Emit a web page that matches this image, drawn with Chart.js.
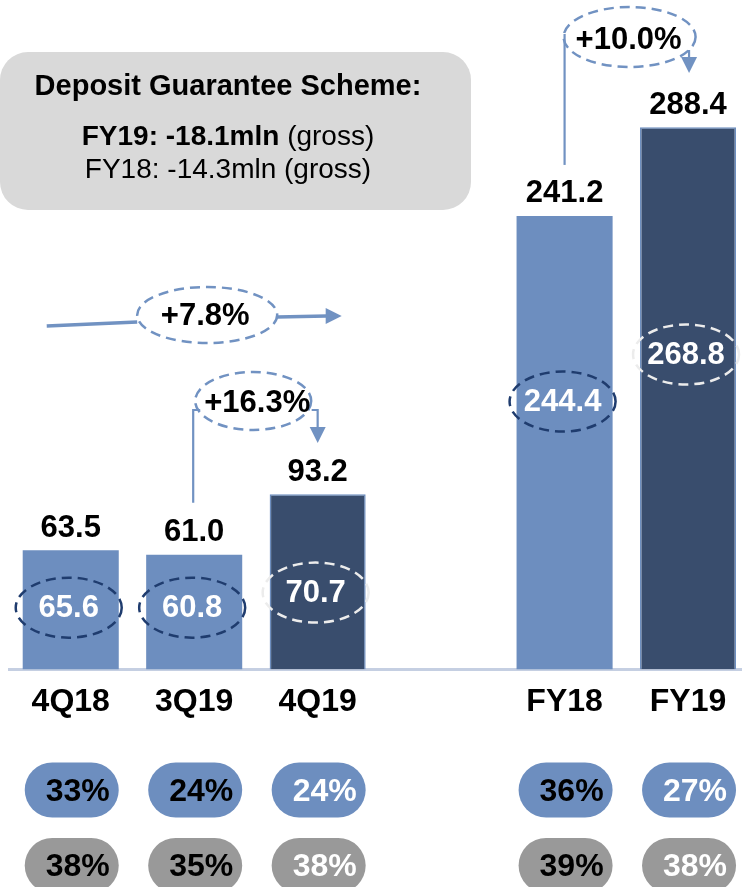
<!DOCTYPE html>
<html>
<head>
<meta charset="utf-8">
<script src="https://cdn.jsdelivr.net/npm/chart.js@4.4.0/dist/chart.umd.min.js"></script>
<style>
  body { margin: 0; background: #fff; overflow: hidden; }
  #chart { display: block; }
</style>
</head>
<body>
<canvas id="chart" width="742" height="887"></canvas>
<script>
// periods - the empty slot is the gap between quarters and full years
const categories = ['4Q18', '3Q19', '4Q19', '', 'FY18', 'FY19'];
const reported = [63.5, 61.0, 93.2, null, 241.2, 288.4];
const adjusted = [65.6, 60.8, 70.7, null, 244.4, 268.8];
const currentPeriod = [false, false, true, false, false, true];
const shareRow1 = [33, 24, 24, null, 36, 27];
const shareRow2 = [38, 35, 38, null, 39, 38];

// growth of the adjusted figures: [from, to]
const growthPairs = [[0, 2], [1, 2], [4, 5]];
const growthText = growthPairs.map(function (p) {
    return '+' + ((adjusted[p[1]] / adjusted[p[0]] - 1) * 100).toFixed(1) + '%';
});

// height (axis units) of the adjusted label inside each bar
const adjustedLabelAt = [32.4, 32.4, 40.4, null, 142, 167];

const LIGHT = '#6d8ebf';
const DARK = '#394d6d';
const LINE = '#7192c2';
const FONT = "'Liberation Sans', Arial, sans-serif";

function text(ctx, str, x, y, font, color) {
    ctx.font = font;
    ctx.fillStyle = color;
    ctx.textAlign = 'center';
    ctx.textBaseline = 'middle';
    ctx.fillText(str, x, y);
}

function dashedEllipse(ctx, x, y, rx, ry, color, fill) {
    ctx.save();
    ctx.beginPath();
    ctx.ellipse(x, y, rx, ry, 0, 0, Math.PI * 2);
    if (fill) {
        ctx.fillStyle = fill;
        ctx.fill();
    }
    ctx.setLineDash([10, 6]);
    ctx.lineWidth = 2.5;
    ctx.strokeStyle = color;
    ctx.stroke();
    ctx.restore();
}

function polyline(ctx, pts, width) {
    ctx.beginPath();
    ctx.moveTo(pts[0][0], pts[0][1]);
    for (let i = 1; i < pts.length; i++) ctx.lineTo(pts[i][0], pts[i][1]);
    ctx.lineWidth = width;
    ctx.strokeStyle = LINE;
    ctx.stroke();
}

// tip at x,y ; dir 'right' or 'down'
function arrowHead(ctx, x, y, dir) {
    ctx.beginPath();
    if (dir === 'right') {
        ctx.moveTo(x, y); ctx.lineTo(x - 16, y - 8); ctx.lineTo(x - 16, y + 8);
    } else {
        ctx.moveTo(x, y); ctx.lineTo(x - 8, y - 16); ctx.lineTo(x + 8, y - 16);
    }
    ctx.closePath();
    ctx.fillStyle = LINE;
    ctx.fill();
}

const overlay = {
    id: 'overlay',
    afterDraw(chart) {
        const ctx = chart.ctx;
        const xs = chart.scales.x, ys = chart.scales.y;
        const px = i => xs.getPixelForValue(i);
        const py = v => ys.getPixelForValue(v);

        // info box
        ctx.save();
        ctx.fillStyle = '#d9d9d9';
        ctx.beginPath();
        ctx.roundRect(0, 52, 471, 158, 28);
        ctx.fill();
        ctx.textBaseline = 'alphabetic';
        ctx.textAlign = 'center';
        ctx.fillStyle = '#000';
        ctx.font = 'bold 29px ' + FONT;
        ctx.fillText('Deposit Guarantee Scheme:', 228, 95);
        const b = 'FY19: -18.1mln', n = ' (gross)';
        ctx.font = 'bold 28px ' + FONT;
        const wb = ctx.measureText(b).width;
        ctx.font = '28px ' + FONT;
        const wn = ctx.measureText(n).width;
        const sx = 228 - (wb + wn) / 2;
        ctx.textAlign = 'left';
        ctx.font = 'bold 28px ' + FONT;
        ctx.fillText(b, sx, 145);
        ctx.font = '28px ' + FONT;
        ctx.fillText(n, sx + wb, 145);
        ctx.textAlign = 'center';
        ctx.fillText('FY18: -14.3mln (gross)', 228, 178);
        ctx.restore();

        // reported values on top of bars
        reported.forEach((v, i) => {
            if (v == null) return;
            text(ctx, v.toFixed(1), px(i), py(v) - 22, 'bold 31px ' + FONT, '#000');
        });

        // adjusted values inside bars
        adjusted.forEach((v, i) => {
            if (v == null) return;
            const cx = px(i) - 2, cy = py(adjustedLabelAt[i]);
            dashedEllipse(ctx, cx, cy - 1, 53, 30, currentPeriod[i] ? '#ececec' : '#1f3c6e');
            text(ctx, v.toFixed(1), cx, cy, 'bold 31px ' + FONT, '#fff');
        });

        // +7.8% (4Q18 -> 4Q19)
        polyline(ctx, [[px(0) - 24, 326], [px(1) - 57, 322]], 3.5);
        polyline(ctx, [[px(1) + 83, 317], [px(2) + 9, 316]], 3.5);
        arrowHead(ctx, px(2) + 24, 316, 'right');
        dashedEllipse(ctx, px(1) + 13, 315, 70, 28, LINE, '#fff');
        text(ctx, growthText[0], px(1) + 11, 316, 'bold 31px ' + FONT, '#000');

        // +16.3% (3Q19 -> 4Q19)
        polyline(ctx, [[px(1) - 1, py(reported[1]) - 52], [px(1) - 1, 410], [px(1) + 6, 410]], 2.2);
        polyline(ctx, [[px(2) - 6, 410], [px(2), 410], [px(2), 428]], 2.2);
        arrowHead(ctx, px(2), 443, 'down');
        dashedEllipse(ctx, px(1) + 59, 401, 58, 29, LINE, null);
        text(ctx, growthText[1], px(1) + 63, 403, 'bold 31px ' + FONT, '#000');

        // +10.0% (FY18 -> FY19)
        polyline(ctx, [[px(4), py(reported[4]) - 51], [px(4), 34]], 2.2);
        polyline(ctx, [[px(5) + 1, 50], [px(5) + 1, 58]], 2.2);
        arrowHead(ctx, px(5) + 1, 73, 'down');
        dashedEllipse(ctx, px(4) + 65, 37, 66, 30, LINE, null);
        text(ctx, growthText[2], px(4) + 64, 40, 'bold 31px ' + FONT, '#000');

        // share pills under the axis
        [shareRow1, shareRow2].forEach((row, r) => {
            const cy = r === 0 ? 790 : 865.5;
            row.forEach((v, i) => {
                if (v == null) return;
                const cx = px(i) + 1;
                ctx.fillStyle = r === 0 ? LIGHT : '#999999';
                ctx.beginPath();
                ctx.roundRect(cx - 47, cy - 27.5, 94, 55, 27.5);
                ctx.fill();
                text(ctx, v + '%', cx + 6, cy + 2, 'bold 32px ' + FONT, currentPeriod[i] ? '#fff' : '#000');
            });
        });
    }
};

new Chart(document.getElementById('chart'), {
    type: 'bar',
    data: {
        datasets: [{
            data: reported.map((v, i) => ({ x: i, y: v })),
            backgroundColor: currentPeriod.map(c => c ? DARK : LIGHT),
            borderColor: LIGHT,
            borderWidth: currentPeriod.map(c => c ? 1.5 : 0),
            barPercentage: 0.778,
            categoryPercentage: 1
        }]
    },
    options: {
        responsive: false,
        animation: false,
        devicePixelRatio: 1,
        layout: { padding: { left: 9, right: 0, top: 0, bottom: 153 } },
        plugins: { legend: { display: false }, tooltip: { enabled: false } },
        scales: {
            x: {
                type: 'linear',
                min: -0.5,
                max: 5.437,
                offset: false,
                bounds: 'data',
                grid: { display: false, drawTicks: false },
                border: { display: true, color: '#c5cfe2', width: 3 },
                afterBuildTicks: function (axis) {
                    axis.ticks = categories.map((c, i) => ({ value: i })).filter(t => categories[t.value]);
                },
                ticks: {
                    padding: 13,
                    autoSkip: false,
                    maxRotation: 0,
                    color: '#000',
                    font: { family: FONT, size: 32, weight: 'bold' },
                    callback: v => categories[v]
                }
            },
            y: { display: false, min: 0, max: 356 }
        }
    },
    plugins: [overlay]
});
</script>
</body>
</html>
